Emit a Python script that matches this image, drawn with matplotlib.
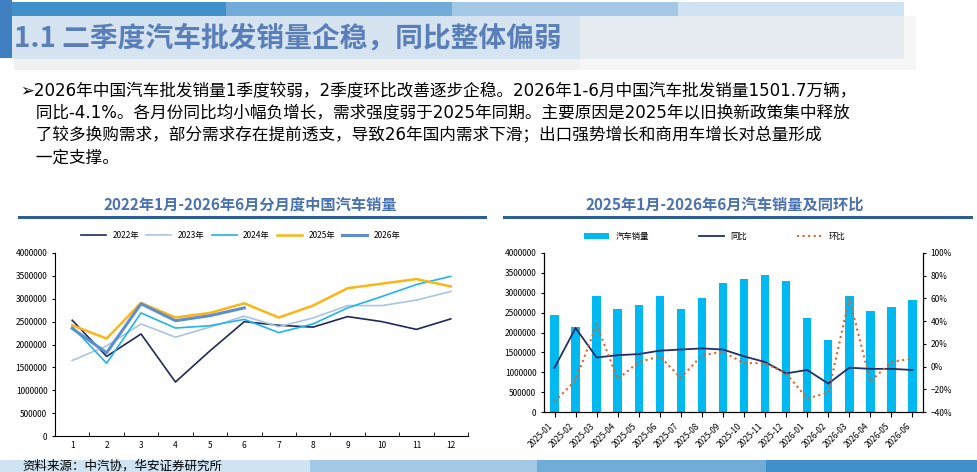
import numpy as np
import matplotlib
matplotlib.use("Agg")
import matplotlib.pyplot as plt
from matplotlib.patches import Rectangle
from matplotlib.ticker import PercentFormatter, FuncFormatter

plt.rcParams['font.family'] = ['Noto Sans CJK SC', 'DejaVu Sans']

# monthly wholesale sales (vehicles)
months = list(range(1, 13))
sales = {
    "2022年": [2530000, 1740000, 2230000, 1180000, 1860000, 2500000, 2420000, 2380000, 2610000, 2500000, 2330000, 2560000],
    "2023年": [1650000, 1970000, 2450000, 2160000, 2380000, 2620000, 2390000, 2580000, 2850000, 2850000, 2970000, 3160000],
    "2024年": [2390000, 1590000, 2690000, 2360000, 2410000, 2550000, 2260000, 2450000, 2800000, 3050000, 3310000, 3490000],
    "2025年": [2420000, 2130000, 2910000, 2590000, 2690000, 2900000, 2590000, 2850000, 3230000, 3330000, 3430000, 3270000],
    "2026年": [2350000, 1820000, 2890000, 2520000, 2630000, 2800000],
}
styles = {
    "2022年": dict(color="#1f2a5a", lw=1.2),
    "2023年": dict(color="#a9c4e4", lw=1.2),
    "2024年": dict(color="#1fb4ea", lw=1.2),
    "2025年": dict(color="#fdb515", lw=1.8),
    "2026年": dict(color="#5b8fd0", lw=2.2),
}

periods = [f"2025-{m:02d}" for m in range(1, 13)] + [f"2026-{m:02d}" for m in range(1, 7)]
bars = [2430000, 2130000, 2930000, 2600000, 2680000, 2910000, 2600000, 2860000, 3240000,
        3340000, 3440000, 3290000, 2360000, 1820000, 2910000, 2530000, 2630000, 2810000]
yoy = [-1, 34, 8, 10, 11, 14, 15, 16, 15, 9, 4, -6, -3, -15, -1, -2, -2, -3]
mom = [-31, -12, 37, -11, 4, 9, -10, 10, 13, 3, 3, -6, -28, -23, 60, -13, 4, 7]

fig = plt.figure(figsize=(9.77, 4.72), dpi=100)
plain = FuncFormatter(lambda v, p: f"{v:.0f}")

# header bands
H = 472.0
def band(x, y, w, h, c, a=1.0):
    fig.add_artist(Rectangle((x / 977, 1 - (y + h) / H), w / 977, h / H, color=c, alpha=a, lw=0, zorder=0))

band(14, 16, 566, 54, "#f1f1f1")
band(12, 2, 214, 14, "#3f8fc8")
band(226, 2, 226, 14, "#71acd8")
band(452, 2, 226, 14, "#a3c8e6")
band(678, 2, 226, 14, "#cfe3f2")
band(12, 16, 892, 43, "#d5e4f0")
band(580, 16, 336, 54, "#f1f1f1", 0.6)
band(0, 0, 12, 58, "#3f7fbf")
fig.text(14 / 977, 1 - 38 / H, "1.1 二季度汽车批发销量企稳，同比整体偏弱", fontsize=20,
         color="#5a7fb8", fontweight="bold", va="center")

body = ("➢2026年中国汽车批发销量1季度较弱，2季度环比改善逐步企稳。2026年1-6月中国汽车批发销量1501.7万辆，\n"
        "   同比-4.1%。各月份同比均小幅负增长，需求强度弱于2025年同期。主要原因是2025年以旧换新政策集中释放\n"
        "   了较多换购需求，部分需求存在提前透支，导致26年国内需求下滑；出口强势增长和商用车增长对总量形成\n"
        "   一定支撑。")
fig.text(20 / 977, 1 - 82 / H, body, fontsize=12, color="black", va="top", linespacing=1.3,
         family=['DejaVu Sans', 'Noto Sans CJK SC'])

fig.text(250 / 977, 1 - 210 / H, "2022年1月-2026年6月分月度中国汽车销量", fontsize=11,
         color="#4a72b0", ha="center", fontweight="bold")
fig.text(725 / 977, 1 - 210 / H, "2025年1月-2026年6月汽车销量及同环比", fontsize=11,
         color="#4a72b0", ha="center", fontweight="bold")
band(18, 216, 469, 3, "#2f5f98")
band(503, 216, 470, 3, "#2f5f98")

# footer bands
band(0, 460, 310, 12, "#cfe3f2")
band(310, 460, 227, 12, "#a3c8e6")
band(537, 460, 229, 12, "#71acd8")
band(766, 460, 211, 12, "#3f8fc8")
fig.text(22 / 977, 1 - 466 / H, "资料来源：中汽协，华安证券研究所", fontsize=9, va="center")

# left chart
ax1 = fig.add_axes([55 / 977, 1 - 436 / H, 413 / 977, 183 / H])
for k, v in sales.items():
    ax1.plot(months[:len(v)], v, label=k, **styles[k])
ax1.set_ylim(0, 4000000)
ax1.set_yticks(np.arange(0, 4000001, 500000))
ax1.yaxis.set_major_formatter(plain)
ax1.set_xlim(0.5, 12.5)
ax1.set_xticks(months)
ax1.set_xticks(np.arange(0.5, 13, 1), minor=True)
ax1.tick_params(axis="x", which="major", length=0, labelsize=6)
ax1.tick_params(axis="x", which="minor", length=3, direction="in")
ax1.tick_params(axis="y", labelsize=6, length=2)
for s in ["top", "right"]:
    ax1.spines[s].set_visible(False)
ax1.legend(loc="lower center", bbox_to_anchor=(0.45, 1.03), ncol=5, frameon=False,
           fontsize=6, handlelength=3, columnspacing=0.8)

# right chart
ax2 = fig.add_axes([544 / 977, 1 - 412 / H, 379 / 977, 159 / H])
x = np.arange(len(periods))
ax2.bar(x, bars, width=0.4, color="#00b9f1", label="汽车销量")
ax2.set_ylim(0, 4000000)
ax2.set_yticks(np.arange(0, 4000001, 500000))
ax2.yaxis.set_major_formatter(plain)
ax2.set_xlim(-0.5, len(periods) - 0.5)
ax2.set_xticks(x)
ax2.set_xticklabels(periods, rotation=45, ha="right", fontsize=6)
ax2.tick_params(axis="y", labelsize=6, length=2)
ax2.spines["top"].set_visible(False)
ax3 = ax2.twinx()
ax3.plot(x, yoy, color="#1f2f6a", lw=1.3, label="同比")
ax3.plot(x, mom, color="#e0622a", lw=1.5, ls=":", label="环比")
ax3.set_ylim(-40, 100)
ax3.set_yticks(np.arange(-40, 101, 20))
ax3.yaxis.set_major_formatter(PercentFormatter(decimals=0))
ax3.tick_params(axis="y", labelsize=6, length=2)
ax3.spines["top"].set_visible(False)
h1, l1 = ax2.get_legend_handles_labels()
h2, l2 = ax3.get_legend_handles_labels()
ax2.legend(h1 + h2, l1 + l2, loc="lower center", bbox_to_anchor=(0.45, 1.03), ncol=3,
           frameon=False, fontsize=6, columnspacing=6, handlelength=3)

fig.savefig("out.png", dpi=100)
